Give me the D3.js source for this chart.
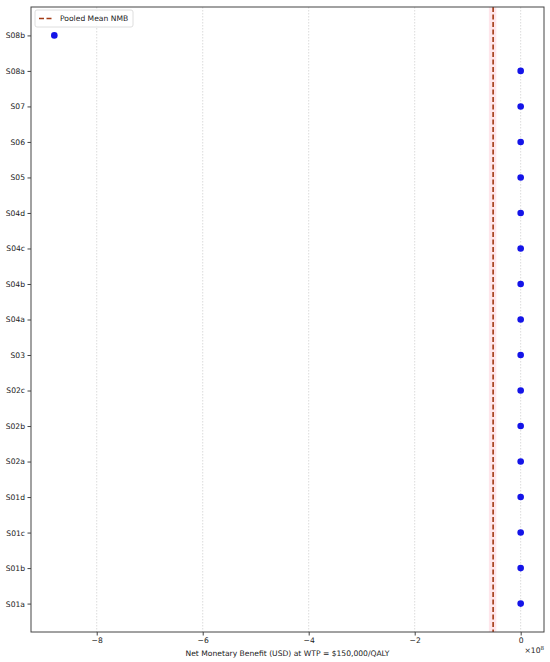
<!DOCTYPE html>
<html>
<head>
<meta charset="utf-8">
<script src="https://cdn.jsdelivr.net/npm/d3@7"></script>
<style>
  html, body { margin: 0; padding: 0; background: #fff; }
  svg { display: block; font-family: "DejaVu Sans", sans-serif; }
</style>
</head>
<body>
<svg id="chart" width="550" height="662"></svg>
<script>
// ---- data ----
const studies = ["S01a","S01b","S01c","S01d","S02a","S02b","S02c","S03",
                 "S04a","S04b","S04c","S04d","S05","S06","S07","S08a","S08b"];
const nmb = [0, 0, 0, 0, 0, 0, 0, 0, 0, 0, 0, 0, 0, 0, 0, 0, -8.8e8];
const pooledMean = -0.52e8;
const pooledLow = -0.6e8;
const pooledHigh = -0.46e8;
const xTicks = [-8e8, -6e8, -4e8, -2e8, 0];
const xTickLabels = ["\u22128", "\u22126", "\u22124", "\u22122", "0"];
const xLabel = "Net Monetary Benefit (USD) at WTP = $150,000/QALY";
const legendLabel = "Pooled Mean NMB";

// ---- layout ----
const svg = d3.select("#chart");
const L = 31, R = 544, T = 7, B = 632;

const xmin = d3.min(nmb), xmax = d3.max(nmb);
const xpad = (xmax - xmin) * 0.05;
const x = d3.scaleLinear().domain([xmin - xpad, xmax + xpad]).range([L, R]);
const n = studies.length;
const ypad = (n - 1) * 0.05;
const y = d3.scaleLinear().domain([-ypad, n - 1 + ypad]).range([B, T]);

// grid
svg.append("g").selectAll("line").data(xTicks).join("line")
  .attr("x1", d => x(d)).attr("x2", d => x(d))
  .attr("y1", T).attr("y2", B)
  .attr("stroke", "#d2d2d2").attr("stroke-width", 0.8)
  .attr("stroke-dasharray", "1.5,1.5");

// pooled CI band
svg.append("rect")
  .attr("x", x(pooledLow)).attr("width", x(pooledHigh) - x(pooledLow))
  .attr("y", T).attr("height", B - T)
  .attr("fill", "#ffc8d2").attr("opacity", 0.45);

// pooled mean line
svg.append("line")
  .attr("x1", x(pooledMean)).attr("x2", x(pooledMean))
  .attr("y1", T).attr("y2", B)
  .attr("stroke", "#a33b14").attr("stroke-width", 1.6)
  .attr("stroke-dasharray", "5,2.5");

// points
svg.append("g").selectAll("circle").data(studies).join("circle")
  .attr("cx", (d, i) => x(nmb[i]))
  .attr("cy", (d, i) => y(i))
  .attr("r", 3.3)
  .attr("fill", "#1414e8");

// axes box
svg.append("rect").attr("x", L).attr("y", T).attr("width", R - L).attr("height", B - T)
  .attr("fill", "none").attr("stroke", "#444").attr("stroke-width", 1);

// x axis
const xAxis = d3.axisBottom(x).tickValues(xTicks)
  .tickFormat((d, i) => xTickLabels[i]).tickSize(3.5).tickPadding(2.5);
const gx = svg.append("g").attr("transform", `translate(0,${B})`).call(xAxis);
gx.select(".domain").remove();
gx.selectAll("line").attr("stroke", "#444");
gx.selectAll("text").attr("font-size", 7.6).attr("fill", "#222")
  .attr("font-family", "DejaVu Sans, sans-serif");

// y axis
const yAxis = d3.axisLeft(y).tickValues(d3.range(n))
  .tickFormat(i => studies[i]).tickSize(3.5).tickPadding(2.5);
const gy = svg.append("g").attr("transform", `translate(${L},0)`).call(yAxis);
gy.select(".domain").remove();
gy.selectAll("line").attr("stroke", "#444");
gy.selectAll("text").attr("font-size", 7.6).attr("fill", "#222")
  .attr("font-family", "DejaVu Sans, sans-serif");

// x label
svg.append("text").attr("x", (L + R) / 2).attr("y", 656)
  .attr("text-anchor", "middle").attr("font-size", 7.6).attr("fill", "#222")
  .text(xLabel);

// offset text
const off = svg.append("text").attr("x", R).attr("y", 653)
  .attr("text-anchor", "end").attr("font-size", 7.6).attr("fill", "#222");
off.append("tspan").text("\u00d710");
off.append("tspan").attr("dy", -3).attr("font-size", 5.5).text("8");

// legend
const lg = svg.append("g").attr("transform", `translate(${L + 4},${T + 3})`);
lg.append("rect").attr("width", 98).attr("height", 17).attr("rx", 2)
  .attr("fill", "#fff").attr("fill-opacity", 0.8)
  .attr("stroke", "#d6d6d6").attr("stroke-width", 0.8);
lg.append("line").attr("x1", 4).attr("x2", 18).attr("y1", 8.5).attr("y2", 8.5)
  .attr("stroke", "#a33b14").attr("stroke-width", 1.6).attr("stroke-dasharray", "5,2.5");
lg.append("text").attr("x", 25).attr("y", 11.3).attr("font-size", 7.6).attr("fill", "#222")
  .text(legendLabel);
</script>
</body>
</html>
